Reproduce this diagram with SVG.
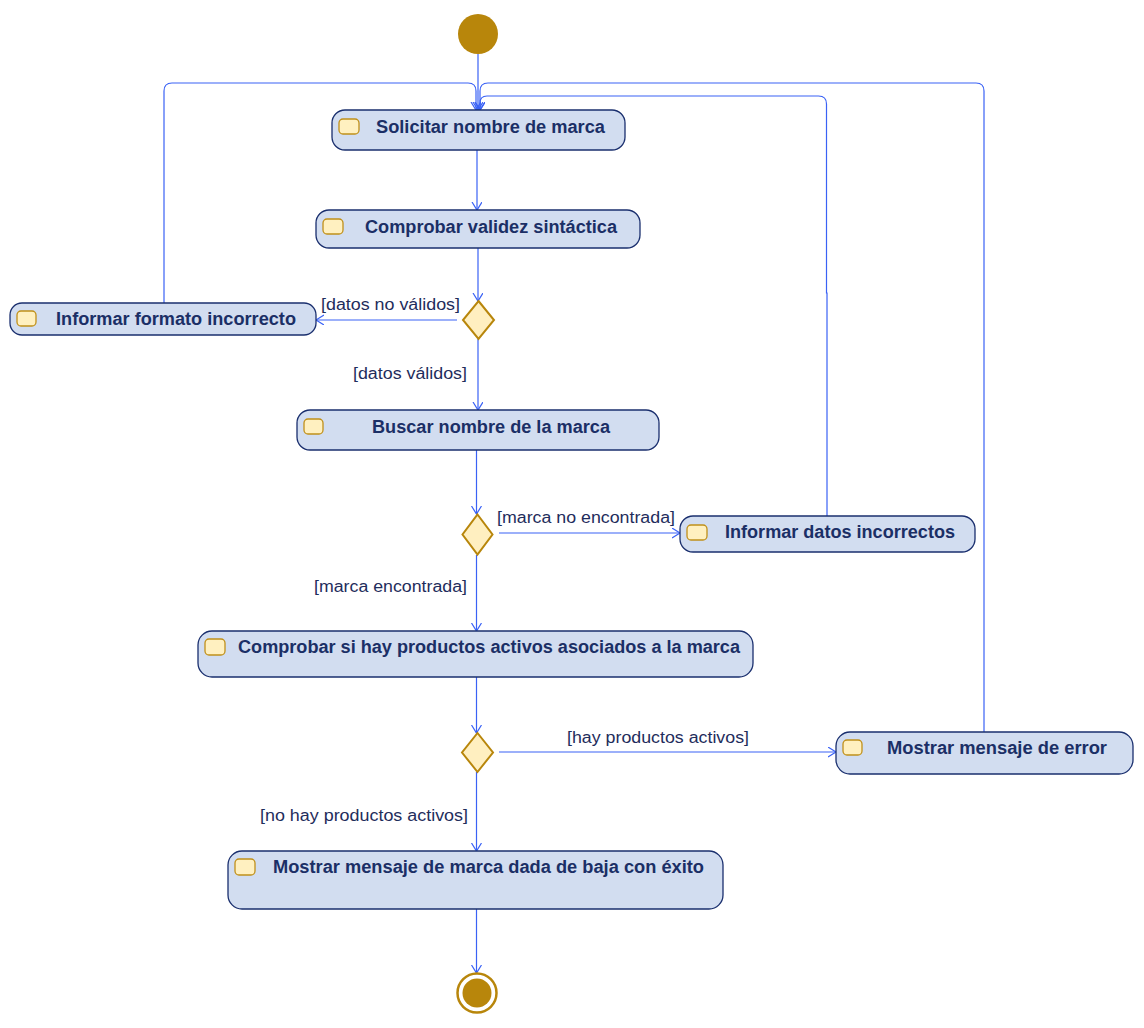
<svg xmlns="http://www.w3.org/2000/svg" width="1144" height="1028" viewBox="0 0 1144 1028">
<style>
.node{fill:#d2ddf0;stroke:#1a2f6e;stroke-width:1.3}
.icon{fill:#fff0c0;stroke:#c0901a;stroke-width:1.3}
.dec{fill:#ffefc0;stroke:#b8860b;stroke-width:2}
.t{font-family:"Liberation Sans",Arial,sans-serif;font-weight:bold;font-size:18px;fill:#1b2f66}
.lbl{font-family:"Liberation Sans",Arial,sans-serif;font-size:17.3px;fill:#1f2d5c}
.c{fill:none;stroke:#3a62f5;stroke-width:1.2;marker-end:url(#arr)}
</style>
<defs>
<marker id="arr" markerWidth="12" markerHeight="12" refX="8" refY="5" orient="auto" markerUnits="userSpaceOnUse">
<path d="M0,0 L8,5 L0,10" fill="none" stroke="#3a62f5" stroke-width="1.2"/>
</marker>
</defs>
<rect width="1144" height="1028" fill="#ffffff"/>
<g id="connectors">
<path class="c" d="M478,54 V110"/>
<path class="c" d="M164,303 V91 Q164,83 172,83 H468 Q476,83 476,91 V110"/>
<path class="c" d="M984,732 V91 Q984,83 976,83 H488 Q480,83 480,91 V110"/>
<path class="c" d="M827,516 V293 H826.5 V104 Q826.5,96 818.5,96 H487 Q480,96 480,103 V110"/>
<path class="c" d="M477,150 V210"/>
<path class="c" d="M478,248 V301"/>
<path class="c" d="M457,320 H316"/>
<path class="c" d="M478,339 V410"/>
<path class="c" d="M476.5,450 V514"/>
<path class="c" d="M499,533 H680"/>
<path class="c" d="M476.5,555 V631"/>
<path class="c" d="M476.5,677 V733"/>
<path class="c" d="M499,752 H836"/>
<path class="c" d="M476.5,772 V851"/>
<path class="c" d="M476.5,909 V973"/>
</g>
<g id="labels">
<text class="lbl" x="321" y="310" textLength="139" lengthAdjust="spacingAndGlyphs">[datos no válidos]</text>
<text class="lbl" x="353" y="379" textLength="114" lengthAdjust="spacingAndGlyphs">[datos válidos]</text>
<text class="lbl" x="497" y="523" textLength="178" lengthAdjust="spacingAndGlyphs">[marca no encontrada]</text>
<text class="lbl" x="314" y="592" textLength="153" lengthAdjust="spacingAndGlyphs">[marca encontrada]</text>
<text class="lbl" x="567" y="743" textLength="182" lengthAdjust="spacingAndGlyphs">[hay productos activos]</text>
<text class="lbl" x="260" y="821" textLength="208" lengthAdjust="spacingAndGlyphs">[no hay productos activos]</text>
</g>
<g id="start">
<circle cx="478" cy="34" r="20" fill="#b8860b"/>
</g>
<g id="solicitar">
<rect class="node" x="332" y="110" width="293" height="40" rx="13"/>
<rect class="icon" x="339" y="119" width="20" height="15" rx="4"/>
<text class="t" x="376" y="133" textLength="229" lengthAdjust="spacingAndGlyphs">Solicitar nombre de marca</text>
</g>
<g id="comprobar-validez">
<rect class="node" x="316" y="210" width="324" height="38" rx="13"/>
<rect class="icon" x="323" y="219" width="20" height="15" rx="4"/>
<text class="t" x="365" y="233" textLength="252" lengthAdjust="spacingAndGlyphs">Comprobar validez sintáctica</text>
</g>
<g id="decision1">
<polygon class="dec" points="478.5,301 494,320 478.5,339 463,320"/>
</g>
<g id="informar-formato">
<rect class="node" x="10" y="303" width="306" height="32" rx="12"/>
<rect class="icon" x="17" y="311" width="19" height="15" rx="4"/>
<text class="t" x="56" y="325" textLength="240" lengthAdjust="spacingAndGlyphs">Informar formato incorrecto</text>
</g>
<g id="buscar">
<rect class="node" x="297" y="410" width="362" height="40" rx="13"/>
<rect class="icon" x="304" y="419" width="19" height="15" rx="4"/>
<text class="t" x="372" y="433" textLength="238" lengthAdjust="spacingAndGlyphs">Buscar nombre de la marca</text>
</g>
<g id="decision2">
<polygon class="dec" points="477.5,514.5 492.5,534.5 477.5,554.5 462.5,534.5"/>
</g>
<g id="informar-datos">
<rect class="node" x="680" y="516" width="295" height="36" rx="13"/>
<rect class="icon" x="687" y="525" width="20" height="15" rx="4"/>
<text class="t" x="725" y="538" textLength="230" lengthAdjust="spacingAndGlyphs">Informar datos incorrectos</text>
</g>
<g id="comprobar-productos">
<rect class="node" x="198" y="631" width="555" height="46" rx="14"/>
<rect class="icon" x="205" y="639" width="20" height="16" rx="4"/>
<text class="t" x="238" y="653" textLength="502" lengthAdjust="spacingAndGlyphs">Comprobar si hay productos activos asociados a la marca</text>
</g>
<g id="decision3">
<polygon class="dec" points="477.5,733 493,752.5 477.5,772 462,752.5"/>
</g>
<g id="mostrar-error">
<rect class="node" x="836" y="732" width="297" height="42" rx="14"/>
<rect class="icon" x="843" y="740" width="19" height="15" rx="4"/>
<text class="t" x="887" y="754" textLength="220" lengthAdjust="spacingAndGlyphs">Mostrar mensaje de error</text>
</g>
<g id="mostrar-exito">
<rect class="node" x="228" y="851" width="495" height="58" rx="14"/>
<rect class="icon" x="235" y="859" width="20" height="16" rx="4"/>
<text class="t" x="273" y="873" textLength="431" lengthAdjust="spacingAndGlyphs">Mostrar mensaje de marca dada de baja con éxito</text>
</g>
<g id="end">
<circle cx="477" cy="993" r="19.5" fill="#ffffff" stroke="#b8860b" stroke-width="2.5"/>
<circle cx="477" cy="993" r="14.5" fill="#b8860b"/>
</g>
</svg>
